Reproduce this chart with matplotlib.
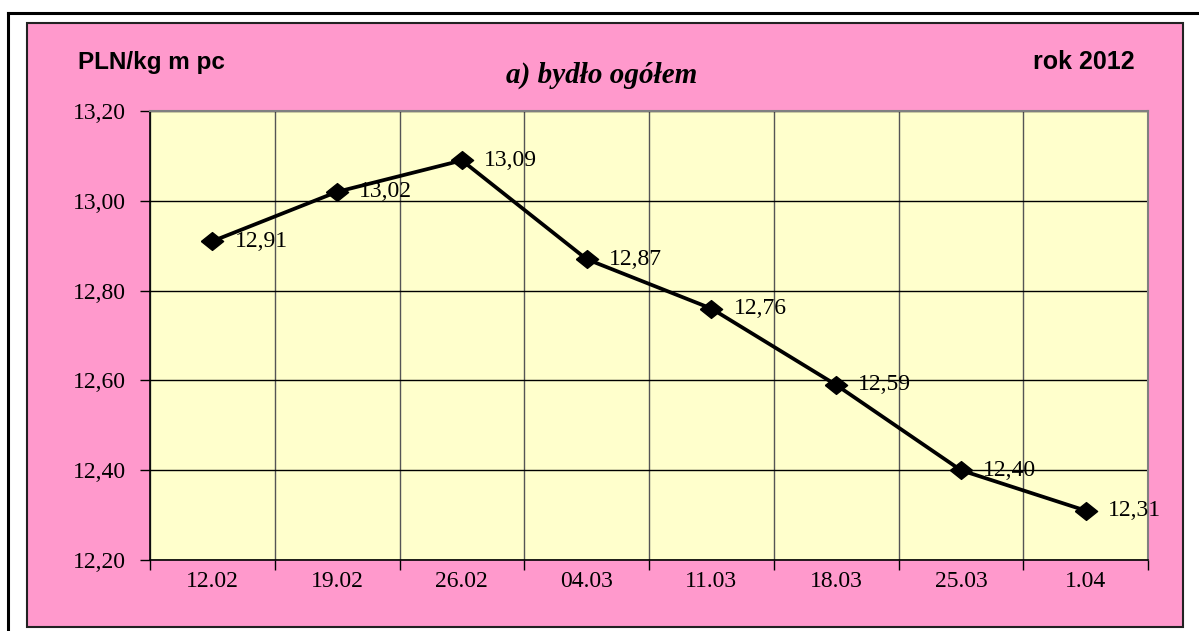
import matplotlib.pyplot as plt
from matplotlib.patches import Rectangle
from matplotlib.lines import Line2D
import numpy as np

dates = ["12.02", "19.02", "26.02", "04.03", "11.03", "18.03", "25.03", "1.04"]
prices = [12.91, 13.02, 13.09, 12.87, 12.76, 12.59, 12.40, 12.31]
yticks = [12.20, 12.40, 12.60, 12.80, 13.00, 13.20]

PINK = "#FF99CC"
YELLOW = "#FFFFCC"
SERIF = "Liberation Serif"
SANS = "Liberation Sans"

fig = plt.figure(figsize=(11.99, 6.31), dpi=100)

# outer frame (top and left lines)
fig.add_artist(Line2D([8 / 1199, 1.0], [1 - 13 / 631] * 2, color="black", lw=2.2,
                      transform=fig.transFigure, zorder=-20))
fig.add_artist(Line2D([8 / 1199] * 2, [0, 1 - 13 / 631], color="black", lw=2.2,
                      transform=fig.transFigure, zorder=-20))

# pink chart area, kept behind the axes
fig.add_artist(Rectangle((27 / 1199, 1 - 627 / 631), (1183 - 27) / 1199, (627 - 23) / 631,
                         facecolor=PINK, edgecolor="#222222", lw=1.5,
                         transform=fig.transFigure, zorder=-10))

ax = fig.add_axes([150 / 1199, 1 - 560 / 631, (1148 - 150) / 1199, (560 - 111) / 631])
ax.set_facecolor(YELLOW)

x = np.arange(len(dates))
diamond = [(-1, 0), (0, 0.8), (1, 0), (0, -0.8), (-1, 0)]
ax.plot(x, prices, color="black", lw=2.7, marker=diamond, markersize=16, zorder=3)

for xi, p in zip(x, prices):
    ax.annotate(f"{p:.2f}".replace(".", ","), (xi, p), xytext=(16, 0),
                textcoords="offset points", va="center", ha="left",
                fontsize=17, family=SERIF, zorder=4)

ax.set_xlim(-0.5, len(dates) - 0.5)
ax.set_ylim(12.20, 13.20)

# category boundaries carry ticks and grid lines, labels sit in the middle
ax.set_xticks(np.arange(-0.5, len(dates)))
ax.set_xticklabels([])
ax.set_xticks(x, minor=True)
ax.set_xticklabels(dates, minor=True, fontsize=17, family=SERIF)
ax.tick_params(axis="x", which="major", length=7, width=1, direction="out")
ax.tick_params(axis="x", which="minor", length=0, pad=8)

ax.set_yticks(yticks)
ax.set_yticklabels([f"{v:.2f}".replace(".", ",") for v in yticks], fontsize=17, family=SERIF)
ax.tick_params(axis="y", length=7, width=1, direction="out", pad=10)

ax.grid(axis="x", which="major", color="#555555", lw=1)
ax.grid(axis="y", color="black", lw=1)
ax.set_axisbelow(True)

for side in ["top", "right"]:
    ax.spines[side].set_color("#808080")
    ax.spines[side].set_linewidth(1.5)
for side in ["left", "bottom"]:
    ax.spines[side].set_color("black")
    ax.spines[side].set_linewidth(1.2)

fig.text(78 / 1199, 1 - 62 / 631, "PLN/kg m pc", fontsize=17.5, fontweight="bold",
         family=SANS, ha="left", va="center")
fig.text(1135 / 1199, 1 - 62 / 631, "rok 2012", fontsize=18, fontweight="bold",
         family=SANS, ha="right", va="center")
fig.text(602 / 1199, 1 - 75 / 631, "a) bydło ogółem", fontsize=21, fontweight="bold",
         fontstyle="italic", family=SERIF, ha="center", va="center")

fig.savefig("out.png", dpi=100)
